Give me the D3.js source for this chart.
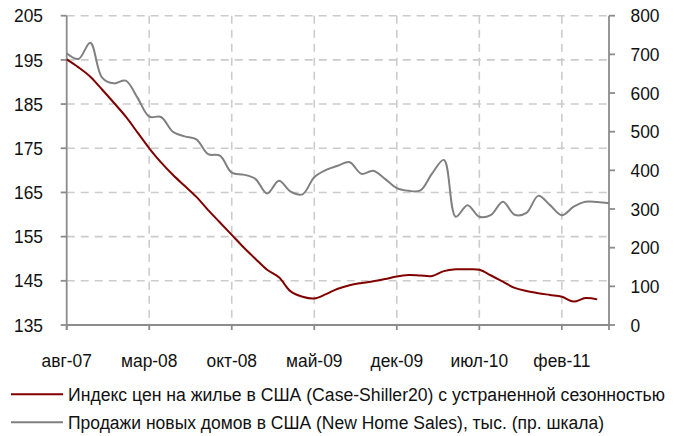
<!DOCTYPE html>
<html>
<head>
<meta charset="utf-8">
<script src="https://cdn.jsdelivr.net/npm/d3@7/dist/d3.min.js"></script>
<style>
  html, body { margin: 0; padding: 0; background: #fff; }
  svg { display: block; }
  text { font-family: "Liberation Sans", Arial, sans-serif; fill: #111; }
</style>
</head>
<body>
<svg id="chart" width="681" height="436"></svg>
<script>
// Months from авг-07 to июн-11
const months = ["авг-07","сен-07","окт-07","ноя-07","дек-07","янв-08","фев-08","мар-08","апр-08","май-08","июн-08","июл-08",
  "авг-08","сен-08","окт-08","ноя-08","дек-08","янв-09","фев-09","мар-09","апр-09","май-09","июн-09","июл-09",
  "авг-09","сен-09","окт-09","ноя-09","дек-09","янв-10","фев-10","мар-10","апр-10","май-10","июн-10","июл-10",
  "авг-10","сен-10","окт-10","ноя-10","дек-10","янв-11","фев-11","мар-11","апр-11","май-11","июн-11"];

// Case-Shiller 20 index, seasonally adjusted (left scale), авг-07 … май-11
const caseShiller = [195.1,193.3,191.2,188.3,185.3,182.2,178.6,175.0,171.8,169.0,166.5,164.0,
  161.0,158.2,155.4,152.6,150.0,147.5,145.8,142.6,141.4,141.0,142.0,143.2,
  144.0,144.5,144.9,145.4,146.0,146.3,146.2,146.1,147.2,147.6,147.6,147.5,
  146.2,144.8,143.4,142.7,142.2,141.8,141.4,140.3,141.1,140.8];

// New home sales, thousands (right scale), авг-07 … июн-11
const newHomeSales = [703,688,730,640,625,632,588,539,538,500,488,480,
  442,438,394,389,378,340,373,345,338,382,401,412,
  421,391,399,378,354,347,348,392,427,280,310,280,
  285,319,285,290,334,310,284,306,319,318,315];

const tickLabels = ["авг-07","мар-08","окт-08","май-09","дек-09","июл-10","фев-11"];
const leftTicks = [135,145,155,165,175,185,195,205];
const rightTicks = [0,100,200,300,400,500,600,700,800];

const legendItems = [
  {label: "Индекс цен на жилье в США (Case-Shiller20) с устраненной сезонностью", color: "#800000", width: 597},
  {label: "Продажи новых домов в США (New Home Sales), тыс. (пр. шкала)", color: "#808080", width: 536}
];

const svg = d3.select("#chart");
const plotL = 66.7, plotR = 609, plotT = 15.7, plotB = 325;

const x = d3.scalePoint().domain(months).range([plotL, plotR]);
const yL = d3.scaleLinear().domain([135, 205]).range([plotB, plotT]);
const yR = d3.scaleLinear().domain([0, 800]).range([plotB, plotT]);

const gridColor = "#cccccc", axisColor = "#8c8c8c";
const fs = 18.5, squeeze = 0.94;   // condensed lettering

// horizontal dashed grid at left-scale ticks
svg.append("g").selectAll("line").data(leftTicks.filter(d => d > 135)).join("line")
  .attr("x1", plotL).attr("x2", plotR)
  .attr("y1", d => yL(d)).attr("y2", d => yL(d))
  .attr("stroke", gridColor).attr("stroke-width", 1.6).attr("stroke-dasharray", "8,6");

// vertical dashed grid at every 7th month
const gridMonths = tickLabels.slice(1);
svg.append("g").selectAll("line").data(gridMonths).join("line")
  .attr("x1", d => x(d)).attr("x2", d => x(d))
  .attr("y1", plotT).attr("y2", plotB)
  .attr("stroke", gridColor).attr("stroke-width", 1.6).attr("stroke-dasharray", "8,6");

// axes
const axisG = svg.append("g").attr("stroke", axisColor).attr("stroke-width", 1.8);
axisG.append("line").attr("x1", plotL).attr("x2", plotL).attr("y1", plotT).attr("y2", plotB + 5);
axisG.append("line").attr("x1", plotR).attr("x2", plotR).attr("y1", plotT).attr("y2", plotB + 5);
axisG.append("line").attr("x1", plotL).attr("x2", plotR).attr("y1", plotB).attr("y2", plotB);
axisG.selectAll(".lt").data(leftTicks).join("line").attr("class", "lt")
  .attr("x1", plotL - 6).attr("x2", plotL).attr("y1", d => yL(d)).attr("y2", d => yL(d));
axisG.selectAll(".rt").data(rightTicks).join("line").attr("class", "rt")
  .attr("x1", plotR).attr("x2", plotR + 6).attr("y1", d => yR(d)).attr("y2", d => yR(d));
axisG.selectAll(".bt").data(tickLabels).join("line").attr("class", "bt")
  .attr("x1", d => x(d)).attr("x2", d => x(d)).attr("y1", plotB).attr("y2", plotB + 5);

// condensed text helper: positions a group, then narrows the glyphs
function label(sel, px, py, anchor, dy) {
  return sel.append("g").attr("transform", d => `translate(${px(d)},${py(d)}) scale(${squeeze},1)`)
    .append("text").attr("text-anchor", anchor).attr("dy", dy).attr("font-size", fs);
}

label(svg.append("g").selectAll("g").data(leftTicks).join("g"), () => 43, d => yL(d), "end", "0.36em").text(d => d);
label(svg.append("g").selectAll("g").data(rightTicks).join("g"), () => 630.5, d => yR(d), "start", "0.36em").text(d => d);
label(svg.append("g").selectAll("g").data(tickLabels).join("g"), d => x(d), () => 366.5, "middle", 0).text(d => d);

// series lines
const lineL = d3.line().x((d, i) => x(months[i])).y(d => yL(d)).curve(d3.curveCatmullRom.alpha(0.5));
const lineR = d3.line().x((d, i) => x(months[i])).y(d => yR(d)).curve(d3.curveCatmullRom.alpha(0.5));

svg.append("path").datum(newHomeSales).attr("d", lineR)
  .attr("fill", "none").attr("stroke", "#808080").attr("stroke-width", 2);
svg.append("path").datum(caseShiller).attr("d", lineL)
  .attr("fill", "none").attr("stroke", "#800000").attr("stroke-width", 2);

// legend
const lg = svg.append("g").selectAll("g").data(legendItems).join("g")
  .attr("transform", (d, i) => `translate(0,${394.3 + i * 28})`);
lg.append("line").attr("x1", 11).attr("x2", 63).attr("y1", 0).attr("y2", 0)
  .attr("stroke", d => d.color).attr("stroke-width", 2);
lg.append("text").attr("x", 68).attr("y", 6.6).attr("font-size", 17.6)
  .attr("textLength", d => d.width).attr("lengthAdjust", "spacingAndGlyphs")
  .text(d => d.label);
</script>
</body>
</html>
